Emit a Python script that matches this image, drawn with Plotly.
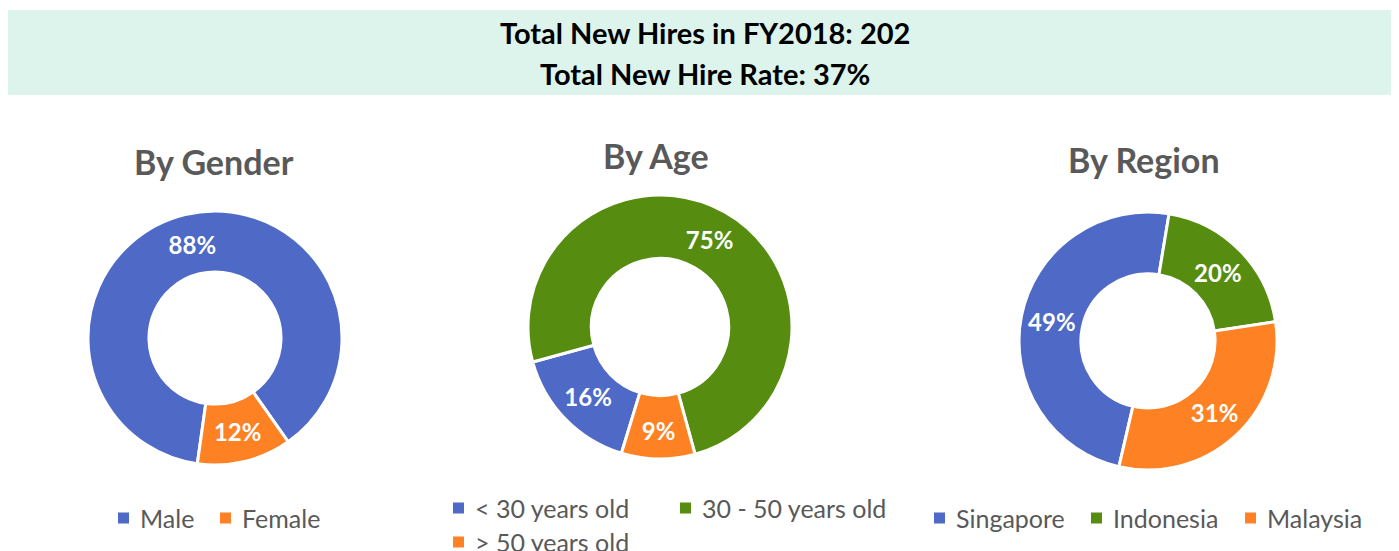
import plotly.graph_objects as go

# page body adds an 8px margin, so the figure is drawn 8px in from the corner
OFF = 8
W, H = 1399 - OFF, 551 - OFF

header_lines = ["Total New Hires in FY2018: 202", "Total New Hire Rate: 37%"]

chart_titles = ["By Gender", "By Age", "By Region"]

gender_labels = ["Male", "Female"]
gender_values = [88, 12]

age_labels = ["< 30 years old", "30 - 50 years old", "> 50 years old"]
age_values = [16, 75, 9]

region_labels = ["Singapore", "Indonesia", "Malaysia"]
region_values = [49, 20, 31]

BLUE, ORANGE, GREEN = "#4F69C6", "#FE8123", "#568D11"
GREY = "#595959"
FONT = "Lato"


def px(x):
    return (x - OFF) / W


def py(y):
    return 1 - (y - OFF) / H


def dom(cx, cy, r):
    return dict(x=[px(cx - r), px(cx + r)], y=[py(cy + r), py(cy - r)])


# (centre x, centre y, radius), rotation, colours
charts = [
    (gender_labels, gender_values, (215, 338, 127), 188, [BLUE, ORANGE]),
    (age_labels, age_values, (660, 327, 132), 197, [BLUE, GREEN, ORANGE]),
    (region_labels, region_values, (1148, 341, 129), 193, [BLUE, GREEN, ORANGE]),
]

fig = go.Figure()
for labels, values, (cx, cy, r), rot, colors in charts:
    fig.add_trace(go.Pie(
        labels=labels, values=values,
        domain=dom(cx, cy, r),
        hole=0.52, sort=False, direction="clockwise", rotation=rot,
        marker=dict(colors=colors, line=dict(color="white", width=3)),
        texttemplate="%{percent:.0%}", textposition="inside",
        insidetextorientation="horizontal",
        textfont=dict(family=FONT, size=24, color="white", weight="bold"),
        showlegend=False, hoverinfo="label+percent",
    ))

# header band
fig.add_shape(type="rect", xref="paper", yref="paper",
              x0=0, x1=1, y0=py(95), y1=py(10),
              fillcolor="#DDF4EC", line=dict(width=0), layer="below")

ann = []
for text, y in zip(header_lines, [32, 73]):
    ann.append(dict(text=text, x=px(705), y=py(y), xref="paper", yref="paper",
                    showarrow=False, xanchor="center", yanchor="middle",
                    font=dict(family=FONT, size=29, color="black", weight="bold")))

for text, (x, y) in zip(chart_titles, [(214, 162), (656, 156), (1144, 160)]):
    ann.append(dict(text=text, x=px(x), y=py(y), xref="paper", yref="paper",
                    showarrow=False, xanchor="center", yanchor="middle",
                    font=dict(family=FONT, size=34, color=GREY, weight="bold")))

# legend entries: square left x, y centre
legend_pos = [
    [(118, 518), (220, 518)],
    [(453, 508), (680, 508), (453, 542)],
    [(934, 518), (1091, 518), (1245, 518)],
]
for (labels, values, _, _, colors), positions in zip(charts, legend_pos):
    for lab, col, (x, y) in zip(labels, colors, positions):
        fig.add_shape(type="rect", xref="paper", yref="paper",
                      x0=px(x), x1=px(x + 11), y0=py(y + 5.5), y1=py(y - 5.5),
                      fillcolor=col, line=dict(width=0))
        ann.append(dict(text=lab, x=px(x + 20), y=py(y), xref="paper", yref="paper",
                        showarrow=False, xanchor="left", yanchor="middle",
                        font=dict(family=FONT, size=25, color=GREY)))

fig.update_layout(
    width=W, height=H,
    margin=dict(l=0, r=0, t=0, b=0),
    paper_bgcolor="white", plot_bgcolor="white",
    annotations=ann,
)

fig.write_html("out.html")
